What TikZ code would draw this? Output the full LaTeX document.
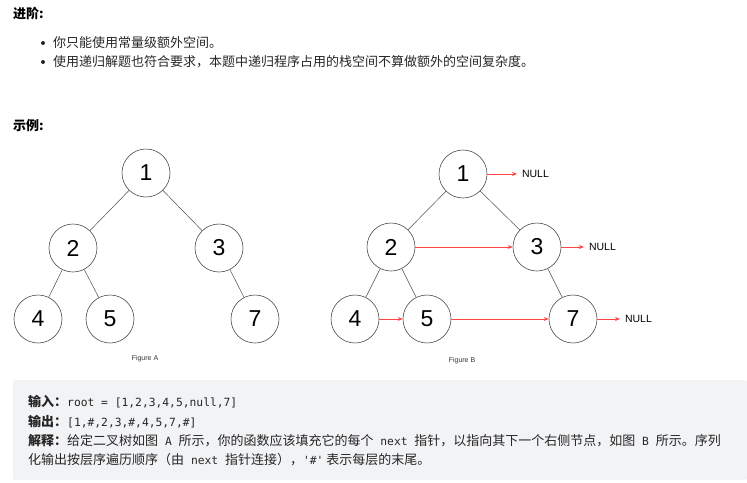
\documentclass[tikz,border=0pt]{standalone}
\usepackage{fontspec}
\setmainfont{Liberation Sans}
\newfontfamily\cjk{Noto Sans CJK SC}
\setmonofont{DejaVu Sans Mono}
\usetikzlibrary{arrows.meta}
\definecolor{txt}{HTML}{262626}
\definecolor{boxbg}{HTML}{F2F3F5}
\definecolor{nxt}{HTML}{FF4545}
\newcommand\cjkt{\cjk\fontsize{13}{15}\selectfont}
\newcommand\mnt[1]{{\ttfamily\fontsize{11.3}{13}\selectfont #1}}
\begin{document}
\begin{tikzpicture}[x=1pt,y=-1pt,
  tn/.style={circle, draw=black!70, line width=0.6pt, minimum size=48pt, inner sep=0pt, font=\fontsize{23}{23}\selectfont},
  treeedge/.style={draw=black!70, line width=0.5pt},
  nx/.style={draw=nxt, line width=0.7pt, -{Stealth[length=5pt,width=4pt]}},
  nulltxt/.style={anchor=west, inner sep=0pt, outer xsep=5pt, font=\fontsize{10.5}{12}\selectfont},
  figcap/.style={inner sep=0pt, font=\fontsize{7}{8}\selectfont, text=black!80},
  txtline/.style={anchor=west, inner sep=0pt, text=txt, font=\cjkt},
  headline/.style={anchor=west, inner sep=0pt, text=black, font=\cjkt\bfseries},
  bulletdot/.style={circle, fill=txt, inner sep=0pt, minimum size=4pt}
]
\useasboundingbox (0,0) rectangle (747,482);

% headings and bullets
\node[headline] (h1) at (13,14) {进阶:};
\node[bulletdot] (d1) at (43,43) {};
\node[txtline] (t1) at (53,43) {你只能使用常量级额外空间。};
\node[bulletdot] (d2) at (43,62) {};
\node[txtline] (t2) at (53,62) {使用递归解题也符合要求，本题中递归程序占用的栈空间不算做额外的空间复杂度。};
\node[headline] (h2) at (13,126) {示例:};

% Figure A
\node[tn] (a1) at (146,173) {1};
\node[tn] (a2) at (73,248) {2};
\node[tn] (a3) at (219,248) {3};
\node[tn] (a4) at (38,319) {4};
\node[tn] (a5) at (110,319) {5};
\node[tn] (a7) at (255,319) {7};
\draw[treeedge] (a1) -- (a2);
\draw[treeedge] (a1) -- (a3);
\draw[treeedge] (a2) -- (a4);
\draw[treeedge] (a2) -- (a5);
\draw[treeedge] (a3) -- (a7);
\node[figcap] (capa) at (145,359) {Figure A};

% Figure B
\node[tn] (b1) at (463,174) {1};
\node[tn] (b2) at (391,247) {2};
\node[tn] (b3) at (537,247) {3};
\node[tn] (b4) at (355,319) {4};
\node[tn] (b5) at (427,319) {5};
\node[tn] (b7) at (573,319) {7};
\draw[treeedge] (b1) -- (b2);
\draw[treeedge] (b1) -- (b3);
\draw[treeedge] (b2) -- (b4);
\draw[treeedge] (b2) -- (b5);
\draw[treeedge] (b3) -- (b7);
\node[nulltxt] (n1) at (517,174) {NULL};
\node[nulltxt] (n3) at (584,247) {NULL};
\node[nulltxt] (n7) at (620,319) {NULL};
\draw[nx] (b1) -- (n1);
\draw[nx] (b2) -- (b3);
\draw[nx] (b3) -- (n3);
\draw[nx] (b4) -- (b5);
\draw[nx] (b5) -- (b7);
\draw[nx] (b7) -- (n7);
\node[figcap] (capb) at (462,361) {Figure B};

% example box
\fill[boxbg, rounded corners=2pt] (13,380) rectangle (747,480);
\node[txtline] (l1) at (28,402) {{\bfseries 输入：}\mnt{root = [1,2,3,4,5,null,7]}};
\node[txtline] (l2) at (28,422) {{\bfseries 输出：}\mnt{[1,\#,2,3,\#,4,5,7,\#]}};
\node[txtline] (l3) at (28,441) {{\bfseries 解释：}给定二叉树如图\mnt{ A }所示，你的函数应该填充它的每个\mnt{ next }指针，以指向其下一个右侧节点，如图\mnt{ B }所示。序列};
\node[txtline] (l4) at (28,460) {化输出按层序遍历顺序（由\mnt{ next }指针连接），\mnt{'\#'} 表示每层的末尾。};
\end{tikzpicture}
\end{document}
